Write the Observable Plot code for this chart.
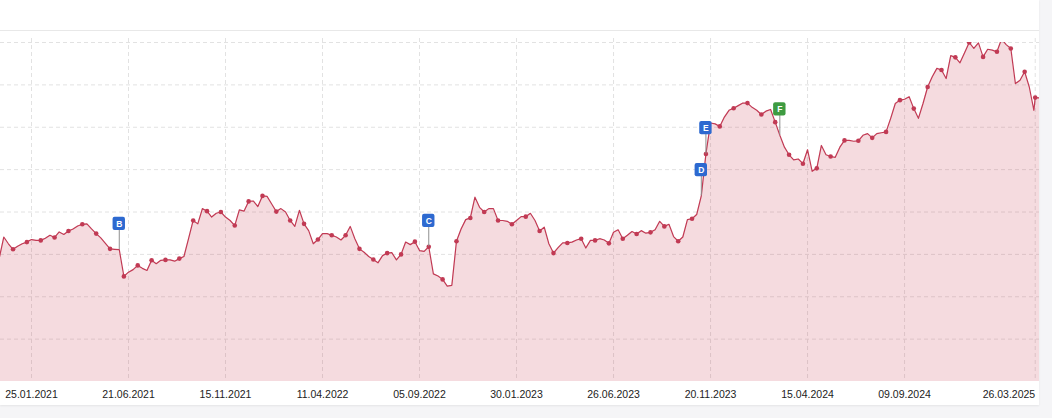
<!DOCTYPE html>
<html>
<head>
<meta charset="utf-8">
<script src="https://cdn.jsdelivr.net/npm/d3@7"></script>
<script src="https://cdn.jsdelivr.net/npm/@observablehq/plot@0.6"></script>
<style>
  html, body { margin: 0; padding: 0; background: #f5f5f7; }
  #card { position: absolute; left: 0; top: 0; width: 1039px; height: 405px; background: #fff;
          box-shadow: 0 1px 2px rgba(0,0,0,0.07); padding-top: 30px; box-sizing: border-box; }
</style>
</head>
<body>
<div id="card"></div>
<script>
// ---- data ----
const weekStart = "2020-12-07"; // first weekly value (Monday)
const weeklyValues = [
  2.90, 3.41, 3.25,
  3.12, 3.19, 3.25, 3.29, 3.35, 3.33, 3.33, 3.38, 3.45, 3.40,
  3.53, 3.47, 3.55, 3.60, 3.67, 3.71, 3.72, 3.60, 3.49, 3.39,
  3.26, 3.13, 3.12, 3.11, 2.48, 2.58, 2.64, 2.74, 2.67, 2.62,
  2.86, 2.78, 2.86, 2.87, 2.87, 2.84, 2.90, 2.95, 3.37, 3.80,
  3.72, 4.08, 4.02, 3.88, 3.97, 4.00, 3.88, 3.80, 3.68, 4.05,
  4.02, 4.25, 4.26, 4.13, 4.38, 4.37, 4.19, 4.01, 4.08, 4.00,
  3.80, 3.66, 4.04, 3.72, 3.56, 3.25, 3.35, 3.49, 3.49, 3.45,
  3.41, 3.34, 3.45, 3.66, 3.37, 3.13, 3.05, 2.95, 2.88, 2.80,
  2.97, 3.03, 3.04, 2.87, 3.00, 3.29, 3.23, 3.30, 3.09, 3.07,
  3.18, 2.54, 2.49, 2.41, 2.25, 2.27, 3.31, 3.60, 3.82, 3.86,
  4.35, 4.11, 4.00, 4.08, 4.08, 3.80, 3.80, 3.78, 3.71, 3.80,
  3.89, 3.89, 3.97, 3.80, 3.55, 3.64, 3.25, 3.03, 3.16, 3.27,
  3.27, 3.29, 3.34, 3.37, 3.15, 3.33, 3.33, 3.37, 3.34, 3.26,
  3.52, 3.58, 3.37, 3.45, 3.54, 3.48, 3.56, 3.50, 3.52, 3.58,
  3.78, 3.66, 3.71, 3.42, 3.31, 3.41, 3.82, 3.84, 3.94, 4.38,
  5.37, 6.10, 6.08, 6.02, 6.24, 6.40, 6.45, 6.51, 6.57, 6.57,
  6.47, 6.40, 6.30, 6.38, 6.42, 6.12, 5.81, 5.53, 5.35, 5.23,
  5.25, 5.14, 5.47, 4.96, 5.03, 5.57, 5.35, 5.31, 5.29, 5.53,
  5.69, 5.69, 5.67, 5.68, 5.81, 5.85, 5.75, 5.85, 5.87, 5.89,
  6.21, 6.56, 6.64, 6.66, 6.72, 6.44, 6.21, 6.56, 6.95, 7.19,
  7.39, 7.35, 7.15, 7.69, 7.65, 7.52, 7.76, 8.00, 7.86, 7.99,
  7.66, 7.84, 7.82, 7.78, 8.08, 7.95, 7.86, 7.03, 7.11, 7.31,
  6.95, 6.40
];
const lateDates = ["2025-03-26", "2025-04-02"];
const lateValues = [6.70, 6.69];

const tickLabels = ["25.01.2021", "21.06.2021", "15.11.2021", "11.04.2022", "05.09.2022",
  "30.01.2023", "26.06.2023", "20.11.2023", "15.04.2024", "09.09.2024", "26.03.2025"];

const eventLetters = ["B", "C", "D", "E", "F"];
const eventDates = ["2021-06-07", "2022-09-19", "2023-11-06", "2023-11-13", "2024-03-04"];
const eventKinds = ["info", "info", "info", "info", "positive"];

// ---- build tables ----
const parseISO = d3.utcParse("%Y-%m-%d");
const parseTick = d3.utcParse("%d.%m.%Y");
const start = parseISO(weekStart);
const series = weeklyValues.map((v, i) => ({date: d3.utcDay.offset(start, 7 * i), v, dot: i >= 3 && i % 3 === 0}));
lateDates.forEach((d, i) => series.push({date: parseISO(d), v: lateValues[i], dot: i === 0}));
const dots = series.filter(d => d.dot);

const valueAt = new Map(series.map(d => [+d.date, d.v]));
const kindColor = {info: "#2d69d0", positive: "#3e9b41"};
const events = eventLetters.map((l, i) => {
  const date = parseISO(eventDates[i]);
  return {letter: l, date, v: valueAt.get(+date), color: kindColor[eventKinds[i]]};
});

const ticks = tickLabels.map(parseTick);
const lastTick = ticks.slice(-1);
const otherTicks = ticks.slice(0, -1);

const lineColor = "#c13a54";
const gridColor = "#e2e2e2";

const chart = Plot.plot({
  width: 1039,
  height: 374,
  marginLeft: 0,
  marginRight: 0,
  marginTop: 11,
  marginBottom: 24,
  style: {borderTop: "1px solid #e8e8e8", display: "block", background: "#fff", overflow: "visible",
          fontFamily: "'Liberation Sans', Arial, sans-serif"},
  x: {type: "utc", domain: [new Date("2020-12-09T00:29:00Z"), new Date("2025-04-01T12:00:00Z")], axis: null},
  y: {domain: [0, 8], axis: null},
  marks: [
    Plot.gridY([1, 2, 3, 4, 5, 6, 7, 8], {stroke: gridColor, strokeOpacity: 1, strokeDasharray: "4,3"}),
    Plot.gridX(ticks, {stroke: gridColor, strokeOpacity: 1, strokeDasharray: "4,3", insetTop: -4}),
    Plot.areaY(series, {x: "date", y: "v", fill: "#c8374f", fillOpacity: 0.18, clip: true}),
    Plot.lineY(series, {x: "date", y: "v", stroke: lineColor, strokeWidth: 1.2, clip: true}),
    Plot.dot(dots, {x: "date", y: "v", r: 2.3, fill: lineColor, stroke: "none", clip: true}),
    Plot.ruleX(events, {x: "date", y1: "v", y2: "v", insetTop: -20, insetBottom: 0, stroke: "#8f8f8f", strokeWidth: 1}),
    Plot.rect(events, {x1: "date", x2: "date", y1: "v", y2: "v", insetLeft: -6.2, insetRight: -6.2,
      insetTop: -32.5, insetBottom: 19.2, rx: 2, fill: d => d.color}),
    Plot.text(events, {x: "date", y: "v", text: "letter", dy: -25.9, fill: "#fff", fontSize: 8.5,
      fontWeight: "bold", lineAnchor: "middle"}),
    Plot.text(otherTicks, {x: d => d, text: d => d3.utcFormat("%d.%m.%Y")(d), frameAnchor: "bottom",
      dy: 13.5, lineAnchor: "middle", textAnchor: "middle", fill: "#222", fontSize: 10.5}),
    Plot.text(lastTick, {x: d => d, text: d => d3.utcFormat("%d.%m.%Y")(d), frameAnchor: "bottom",
      dy: 13.5, lineAnchor: "middle", textAnchor: "end", fill: "#222", fontSize: 10.5})
  ]
});
document.getElementById("card").appendChild(chart);
</script>
</body>
</html>
